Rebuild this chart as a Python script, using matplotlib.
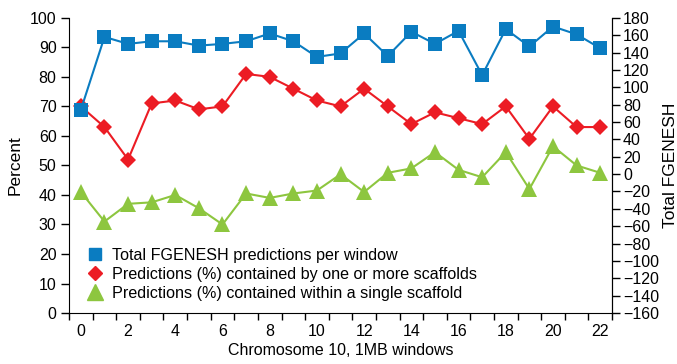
import matplotlib
matplotlib.use("Agg")
import matplotlib.pyplot as plt
from matplotlib.lines import Line2D
import numpy as np

plt.rcParams["font.family"] = ["Liberation Sans", "DejaVu Sans"]

windows = list(range(23))
total_fgenesh = [74, 158, 150, 153, 153, 148, 150, 153, 162, 153, 135, 139, 162,
                 136, 164, 150, 165, 114, 167, 147, 170, 161, 145]
pct_one_or_more = [70, 63, 52, 71, 72, 69, 70, 81, 80, 76, 72, 70, 76,
                   70, 64, 68, 66, 64, 70, 59, 70, 63, 63]
pct_single = [41, 31, 37, 37.5, 40, 35.5, 30, 40.5, 39, 40.5, 41.5, 47, 41,
              47.5, 49, 54.5, 48.5, 46, 54.5, 42, 56.5, 50, 47.5]

blue = "#0a7cc1"
red = "#ec1c24"
green = "#8dc63f"

fig = plt.figure(figsize=(6.77, 3.64), dpi=100)
ax = fig.add_axes([0.102, 0.140, 0.802, 0.811])
ax2 = ax.twinx()

ax.plot(windows, pct_single, color=green, lw=1.5, marker="^", ms=11,
        markeredgewidth=0, zorder=3)
ax.plot(windows, pct_one_or_more, color=red, lw=1.5, marker="D", ms=8,
        markeredgewidth=0, zorder=4)
ax2.plot(windows, total_fgenesh, color=blue, lw=1.5, marker="s", ms=10,
         markeredgewidth=0, zorder=5)

ax.set_xlim(-0.5, 22.5)
ax.set_ylim(0, 100)
ax2.set_ylim(-160, 180)
ax.set_yticks(np.arange(0, 101, 10))
ax2.set_yticks(np.arange(-160, 181, 20))

ax.set_xticks(np.arange(0, 23, 2))
ax.set_xticks(np.arange(-0.5, 23, 1), minor=True)
ax.tick_params(axis="x", which="major", length=0, pad=8, labelsize=11.5)
ax.tick_params(axis="x", which="minor", length=5, width=1)
ax.tick_params(axis="y", length=6, width=1, labelsize=11.5, pad=3)
ax2.tick_params(axis="y", length=6, width=1, labelsize=11.5, pad=2)

for a in (ax, ax2):
    a.spines["top"].set_visible(False)
ax2.spines["left"].set_visible(False)
ax2.spines["bottom"].set_visible(False)

ax.set_ylabel("Percent", fontsize=12.5, labelpad=5)
ax2.set_ylabel("Total FGENESH", fontsize=12.5, labelpad=3)
ax.set_xlabel("Chromosome 10, 1MB windows", fontsize=11.5, labelpad=3)

handles = [
    Line2D([], [], color=blue, marker="s", ms=9, lw=0),
    Line2D([], [], color=red, marker="D", ms=7.5, lw=0),
    Line2D([], [], color=green, marker="^", ms=11, lw=0),
]
labels = [
    "Total FGENESH predictions per window",
    "Predictions (%) contained by one or more scaffolds",
    "Predictions (%) contained within a single scaffold",
]
ax2.legend(handles, labels, loc="lower left", bbox_to_anchor=(0.022, 0.02),
           frameon=False, fontsize=11.6, handlelength=1.0, handletextpad=0.55,
           labelspacing=0.25, borderaxespad=0)

fig.savefig("out.png", dpi=100)
